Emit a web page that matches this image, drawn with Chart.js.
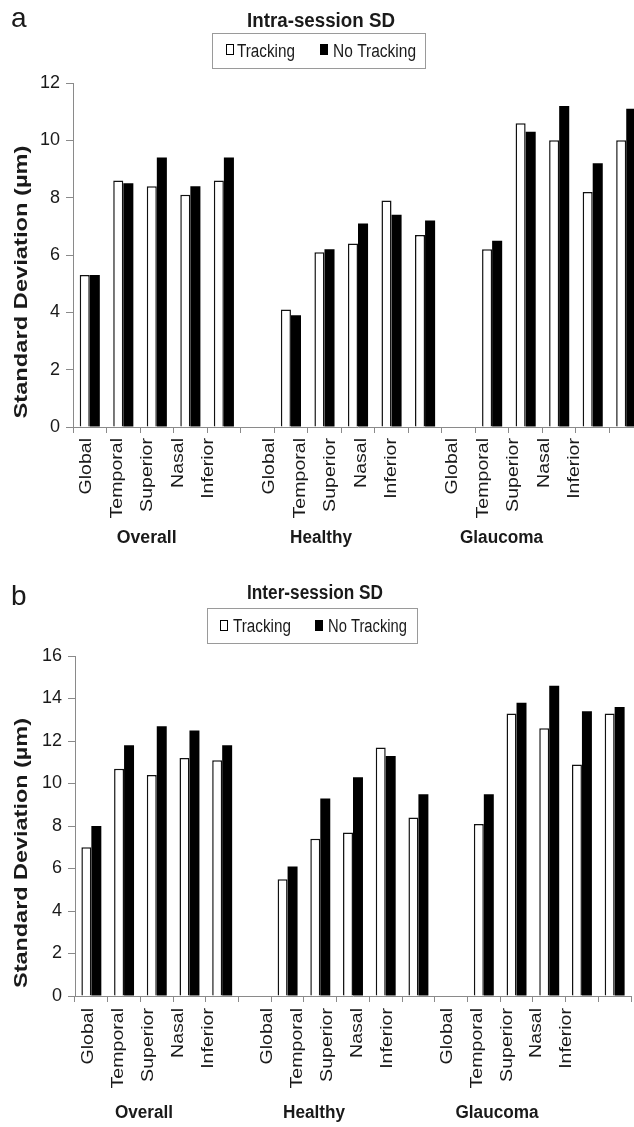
<!DOCTYPE html>
<html>
<head>
<meta charset="utf-8">
<script src="https://cdn.jsdelivr.net/npm/chart.js@4.4.1/dist/chart.umd.min.js"></script>
<style>
  html, body { margin: 0; padding: 0; background: #fff; overflow: hidden; width: 634px; height: 1127px; }
  canvas { position: absolute; left: 0; }
  #cA { top: 0; }
  #cB { top: 560px; }
</style>
</head>
<body>
<canvas id="cA" width="660" height="560"></canvas>
<canvas id="cB" width="634" height="567"></canvas>
<script>
/* Intra- / inter-session SD, tracking vs no tracking — two bar panels */
var SITES = ["Global", "Temporal", "Superior", "Nasal", "Inferior"];
var GROUPS = ["Overall", "Healthy", "Glaucoma"];
var SERIES = ["Tracking", "No Tracking"];
var TICKS_A = [0, 2, 4, 6, 8, 10, 12];
var TICKS_B = [0, 2, 4, 6, 8, 10, 12, 14, 16];

// panel a: intra-session SD (µm)
var intraTrackOverall = [5.3, 8.6, 8.4, 8.1, 8.6];
var intraNoTrackOverall = [5.3, 8.5, 9.4, 8.4, 9.4];
var intraTrackHealthy = [4.1, 6.1, 6.4, 7.9, 6.7];
var intraNoTrackHealthy = [3.9, 6.2, 7.1, 7.4, 7.2];
var intraTrackGlaucoma = [6.2, 10.6, 10.0, 8.2, 10.0];
var intraNoTrackGlaucoma = [6.5, 10.3, 11.2, 9.2, 11.1];

// panel b: inter-session SD (µm)
var interTrackOverall = [7.0, 10.7, 10.4, 11.2, 11.1];
var interNoTrackOverall = [8.0, 11.8, 12.7, 12.5, 11.8];
var interTrackHealthy = [5.5, 7.4, 7.7, 11.7, 8.4];
var interNoTrackHealthy = [6.1, 9.3, 10.3, 11.3, 9.5];
var interTrackGlaucoma = [8.1, 13.3, 12.6, 10.9, 13.3];
var interNoTrackGlaucoma = [9.5, 13.8, 14.6, 13.4, 13.6];

var FONT = "'Liberation Sans', Arial, Helvetica, sans-serif";
var INK = "#1a1a1a";
var AXIS = "#8a8a8a";

// three groups of sites with an empty slot between groups
function withGaps(a, b, c) { return a.concat([null], b, [null], c); }
var labels = SITES.concat([""], SITES, [""], SITES);

function txt(ctx, s, x, y, o) {
  ctx.save();
  ctx.font = o.font;
  ctx.fillStyle = o.color || INK;
  ctx.textBaseline = o.baseline || "alphabetic";
  ctx.textAlign = o.align || "center";
  ctx.translate(x, y);
  if (o.rot) ctx.rotate(-Math.PI / 2);
  var w = ctx.measureText(s).width;
  var k = o.width ? o.width / w : (o.stretch || 1);
  ctx.scale(k, 1);
  ctx.fillText(s, 0, 0);
  ctx.restore();
}

var panelText = {
  id: "panelText",
  afterDraw: function (chart, args, o) {
    var ctx = chart.ctx;
    txt(ctx, o.letter, o.letterX, o.letterY, { font: "28px " + FONT, align: "left" });
    txt(ctx, o.title, o.titleX, o.titleY, { font: "bold 20px " + FONT, width: o.titleW });

    // legend box
    var L = o.legend;
    ctx.save();
    ctx.strokeStyle = "#9a9a9a";
    ctx.lineWidth = 1;
    ctx.strokeRect(L.box[0] + 0.5, L.box[1] + 0.5, L.box[2], L.box[3]);
    L.items.forEach(function (it, i) {
      ctx.fillStyle = i === 0 ? "#fff" : "#000";
      ctx.fillRect(it.sq, L.sqY, 8, 11);
      ctx.strokeStyle = "#000";
      ctx.strokeRect(it.sq + 0.5, L.sqY + 0.5, 7, 10);
      txt(ctx, SERIES[i], it.tx, L.textY, { font: "18px " + FONT, align: "left", width: it.w });
    });
    ctx.restore();

    // y-axis title
    txt(ctx, "Standard Deviation (µm)", o.yTitleX, o.yTitleY,
      { font: "bold 19px " + FONT, rot: true, baseline: "middle", width: o.yTitleW });

    // rotated site labels
    chart.data.labels.forEach(function (l, i) {
      if (!l) return;
      txt(ctx, l, o.lblX0 + o.lblStep * i, o.lblTop,
        { font: "17px " + FONT, rot: true, align: "right", baseline: "middle", stretch: 1.15 });
    });

    // group labels
    GROUPS.forEach(function (g, i) {
      txt(ctx, g, o.groupX[i], o.groupY, { font: "bold 18px " + FONT, width: o.groupW[i] });
    });
  }
};

function makeChart(id, tick, track, noTrack, fit, textOpts) {
  return new Chart(document.getElementById(id), {
    type: "bar",
    data: {
      labels: labels,
      datasets: [
        { label: SERIES[0], data: track, backgroundColor: "#fff", borderColor: "#111", borderWidth: 1.5,
          barPercentage: 1, categoryPercentage: fit.cat },
        { label: SERIES[1], data: noTrack, backgroundColor: "#000", borderColor: "#000", borderWidth: 0,
          barPercentage: 1, categoryPercentage: fit.cat }
      ]
    },
    options: {
      responsive: false,
      animation: false,
      devicePixelRatio: 1,
      layout: { padding: { top: fit.top, right: fit.right, left: 0, bottom: 0 } },
      plugins: { legend: { display: false }, tooltip: { enabled: false }, panelText: textOpts },
      scales: {
        x: {
          grid: { drawOnChartArea: false, tickLength: 6, color: AXIS, offset: true },
          border: { color: AXIS },
          ticks: { display: false },
          afterFit: function (s) { s.height = fit.xh; }
        },
        y: {
          min: tick[0], max: tick[tick.length - 1],
          grid: { drawOnChartArea: false, tickLength: 7, color: AXIS },
          border: { color: AXIS },
          ticks: { stepSize: tick[1] - tick[0], padding: 6, color: INK, font: { family: FONT, size: 18 } },
          afterFit: function (s) { s.width = fit.left; }
        }
      }
    },
    plugins: [panelText]
  });
}

makeChart("cA", TICKS_A,
  withGaps(intraTrackOverall, intraTrackHealthy, intraTrackGlaucoma),
  withGaps(intraNoTrackOverall, intraNoTrackHealthy, intraNoTrackGlaucoma),
  { top: 83, right: 17, left: 73, xh: 133, cat: 0.6 },
  {
    letter: "a", letterX: 11, letterY: 27,
    title: "Intra-session SD", titleX: 321, titleY: 27, titleW: 148,
    legend: { box: [212, 33, 213, 35], sqY: 44, textY: 57,
      items: [{ sq: 226, tx: 237, w: 58 }, { sq: 320, tx: 333, w: 83 }] },
    yTitleX: 22, yTitleY: 282, yTitleW: 273,
    lblX0: 86.7, lblStep: 30.5, lblTop: 438,
    groupX: [146.7, 321, 501.5], groupW: [60, 62, 83], groupY: 543
  });

makeChart("cB", TICKS_B,
  withGaps(interTrackOverall, interTrackHealthy, interTrackGlaucoma),
  withGaps(interNoTrackOverall, interNoTrackHealthy, interNoTrackGlaucoma),
  { top: 96, right: 3, left: 75, xh: 131, cat: 0.61 },
  {
    letter: "b", letterX: 11, letterY: 45,
    title: "Inter-session SD", titleX: 315, titleY: 39, titleW: 136,
    legend: { box: [207, 48, 210, 35], sqY: 60, textY: 72,
      items: [{ sq: 220, tx: 233, w: 58 }, { sq: 315, tx: 328, w: 79 }] },
    yTitleX: 22, yTitleY: 293, yTitleW: 270,
    lblX0: 88.3, lblStep: 29.9, lblTop: 448,
    groupX: [144, 314, 497], groupW: [58, 62, 83], groupY: 558
  });
</script>
</body>
</html>
